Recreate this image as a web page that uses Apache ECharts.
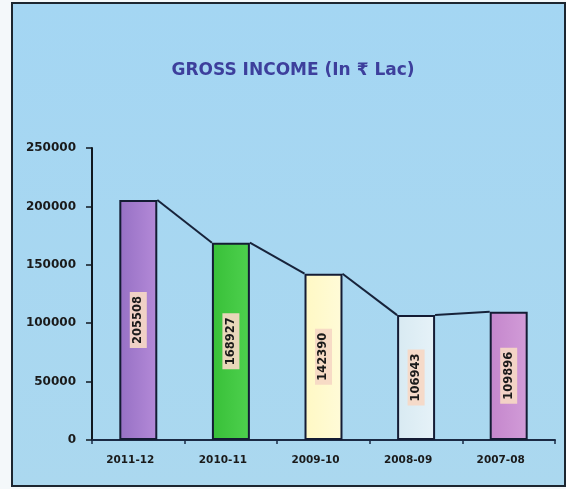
<!DOCTYPE html>
<html>
<head>
<meta charset="utf-8">
<style>
  html, body { margin: 0; padding: 0; background: #f4f8fa; }
  #chart { width: 566px; height: 489px; }
</style>
<script src="https://cdn.jsdelivr.net/npm/echarts@6/dist/echarts.min.js"></script>
</head>
<body>
<div id="chart"></div>
<script>
// Gross income per financial year (₹ Lac)
const years = ['2011-12', '2010-11', '2009-10', '2008-09', '2007-08'];
const grossIncome = [205508, 168927, 142390, 106943, 109896];
const yTicks = [0, 50000, 100000, 150000, 200000, 250000];
const barFills = [
  ['#9670c4', '#b48ad8'],
  ['#38c038', '#4ed04e'],
  ['#fff8c4', '#fffbd8'],
  ['#d8eaf2', '#e6f2f8'],
  ['#c486cc', '#d29cd8']
];

const chart = echarts.init(document.getElementById('chart'), null, { renderer: 'canvas' });
const font = '"DejaVu Sans", "Liberation Sans", "Noto Sans", sans-serif';
const BAR_FRAC = 0.41;

// connector segments: top-right of one bar to top-left of the next
const connectors = [];
for (let i = 0; i < grossIncome.length - 1; i++) {
  connectors.push([i, grossIncome[i], grossIncome[i + 1]]);
}

chart.setOption({
  backgroundColor: '#f4f8fa',
  animation: false,
  graphic: [{
    type: 'rect',
    z: -10,
    shape: { x: 12, y: 3, width: 553, height: 483 },
    style: {
      fill: new echarts.graphic.LinearGradient(0, 0, 0, 1, [
        { offset: 0, color: '#a4d6f3' },
        { offset: 1, color: '#abd8ef' }
      ]),
      stroke: '#1c2630',
      lineWidth: 2
    }
  }],
  title: {
    text: 'GROSS INCOME (In ₹ Lac)',
    left: 288,
    textAlign: 'center',
    top: 57,
    textStyle: {
      fontFamily: font,
      fontSize: 17,
      fontWeight: 'bold',
      color: '#3d3f9c'
    }
  },
  grid: { left: 92, right: 11, top: 148, bottom: 49 },
  xAxis: {
    type: 'category',
    data: years,
    boundaryGap: true,
    axisLine: { lineStyle: { color: '#1a2a44', width: 2 } },
    axisTick: { show: true, length: 4, lineStyle: { color: '#1a2a44', width: 1.5 } },
    axisLabel: {
      fontFamily: font,
      fontSize: 10.5,
      fontWeight: 'bold',
      color: '#1a1a1a',
      margin: 15,
      padding: [0, 16, 0, 0]
    }
  },
  yAxis: {
    type: 'value',
    min: yTicks[0],
    max: yTicks[yTicks.length - 1],
    interval: yTicks[1] - yTicks[0],
    splitLine: { show: false },
    axisLine: { show: true, lineStyle: { color: '#101820', width: 2 } },
    axisTick: { show: true, length: 6, lineStyle: { color: '#101820', width: 1.5 } },
    axisLabel: {
      fontFamily: font,
      fontSize: 12,
      fontWeight: 'bold',
      color: '#1a1a1a',
      margin: 16,
      formatter: v => String(v)
    }
  },
  series: [
    {
      type: 'bar',
      barWidth: (BAR_FRAC * 100) + '%',
      data: grossIncome.map((v, i) => ({
        value: v,
        itemStyle: {
          color: new echarts.graphic.LinearGradient(0, 0, 1, 0, [
            { offset: 0, color: barFills[i][0] },
            { offset: 1, color: barFills[i][1] }
          ]),
          borderColor: '#141c34',
          borderWidth: 2
        }
      })),
      label: {
        show: true,
        position: 'inside',
        rotate: 90,
        fontFamily: font,
        fontSize: 11.5,
        fontWeight: 'bold',
        color: '#1a1a1a',
        backgroundColor: 'rgba(246,216,196,0.92)',
        padding: [3, 4, 2, 4],
        formatter: p => String(p.value)
      },
      z: 2
    },
    {
      type: 'custom',
      z: 3,
      silent: true,
      encode: { x: 0, y: 1 },
      data: connectors,
      renderItem: (params, api) => {
        const i = api.value(0);
        const p1 = api.coord([i, api.value(1)]);
        const p2 = api.coord([i + 1, api.value(2)]);
        const half = api.size([1, 0])[0] * BAR_FRAC / 2;
        return {
          type: 'line',
          shape: { x1: p1[0] + half, y1: p1[1], x2: p2[0] - half, y2: p2[1] },
          style: { stroke: '#17233a', lineWidth: 2 }
        };
      }
    }
  ]
});
</script>
</body>
</html>
